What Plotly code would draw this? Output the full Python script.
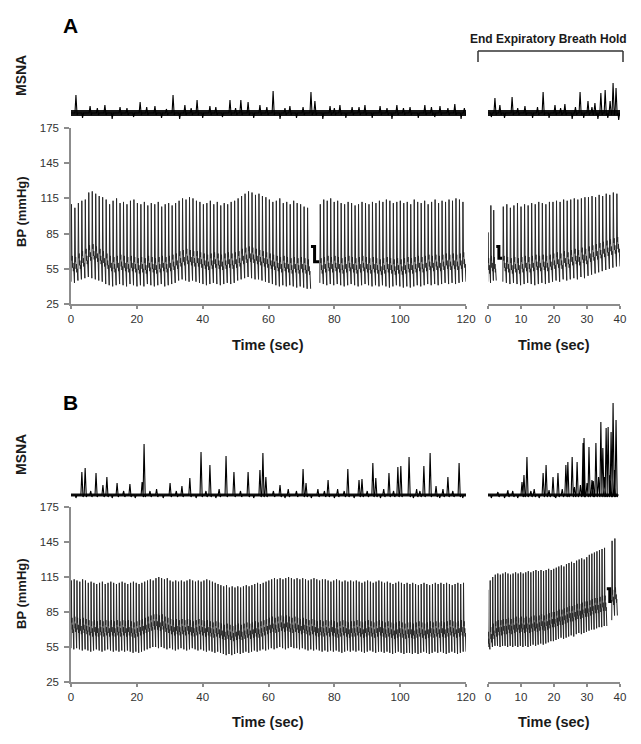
import plotly.graph_objects as go

# The page body has an 8 px margin, so the figure is made 16 px smaller than the window
# and pixel positions below are given in window coordinates.
OFF = 8
W, H = 641 - 2 * OFF, 744 - 2 * OFF

# ---------------- DATA ----------------
# Panel A, baseline recording, BP beats (mmHg)
a1_start, a1_end = 0.0, 72.8
a1_sys = [110, 107, 111, 113, 114, 120, 121, 119, 117, 116,
          114, 110, 113, 115, 111, 112, 110, 113, 114,
          111, 110, 112, 109, 111, 110, 112, 108, 110, 111, 109, 111,
          113, 115, 114, 116, 115, 113,
          112, 110, 111, 113, 110, 112, 109, 111, 110, 112, 113,
          115, 117, 119, 121, 120, 118, 119, 117, 116,
          114, 112, 113, 115, 111, 112, 110, 113, 111, 110, 108, 107]
a1_dia = [44, 43, 45, 46, 47, 48, 47, 46, 45, 44,
          42, 41, 40, 41, 42, 41, 40, 42, 41,
          40, 41, 40, 42, 41, 40, 41, 42, 40, 41, 42, 43,
          45, 46, 45, 44, 45, 44,
          43, 42, 41, 42, 43, 42, 41, 42, 43, 42, 43,
          45, 46, 47, 48, 47, 46, 46, 45, 44,
          43, 42, 41, 40, 41, 40, 41, 40, 39, 40, 39, 38]
a1_notch = [62, 61, 64, 66, 68, 71, 72, 70, 68, 66,
            64, 62, 61, 62, 63, 62, 61, 62, 61,
            60, 61, 60, 62, 61, 60, 61, 62, 61, 62, 63, 64,
            66, 67, 68, 67, 66, 66,
            65, 64, 63, 64, 65, 64, 63, 64, 65, 64, 65,
            66, 68, 69, 70, 69, 68, 67, 66, 65,
            64, 63, 62, 61, 62, 61, 60, 61, 60, 61, 60, 59]
a_cal1_t = [72.9, 74.0, 75.4]
a_cal1_v = [74, 61, 61]
a2_start, a2_end = 75.6, 120.0
a2_sys = [110, 114, 113, 115, 112,
          113, 111, 110, 112, 111, 109, 110, 112, 111,
          110, 112, 111, 113, 112, 114, 113, 111, 112,
          113, 111, 112, 110, 114, 112, 111, 113, 110,
          112, 114, 111, 113, 112, 114, 113, 115, 114, 112]
a2_dia = [43, 42, 41, 42, 41,
          42, 41, 40, 41, 42, 41, 40, 41, 42,
          41, 40, 41, 40, 41, 40, 39, 40, 41,
          40, 39, 40, 39, 40, 41, 40, 41, 42,
          41, 42, 41, 42, 43, 42, 43, 42, 43, 44]
a2_notch = [60, 61, 62, 61, 62,
            61, 60, 61, 62, 61, 60, 61, 62, 61,
            60, 61, 60, 59, 60, 61, 60, 59, 60,
            59, 60, 61, 60, 61, 62, 61, 62, 63,
            62, 63, 62, 63, 64, 63, 64, 63, 64, 65]

# Panel A, end expiratory breath hold
ah0_start, ah0_end = -0.1, 2.5
ah0_sys = [86, 109, 105]
ah0_dia = [44, 43, 45]
ah0_notch = [60, 62, 61]
ah_cal_t = [2.5, 3.3, 4.3]
ah_cal_v = [74, 64, 64]
ah1_start, ah1_end = 4.5, 40.0
ah1_sys = [108, 110, 107, 109, 111,
           108, 110, 109, 111, 110, 112, 111, 110, 112,
           112, 113, 112, 114, 113, 114, 115, 114, 115, 116,
           116, 117, 116, 118, 117, 119, 118, 120, 119]
ah1_dia = [44, 43, 42, 43, 42,
           41, 42, 43, 42, 41, 42, 43, 42, 43,
           44, 45, 44, 46, 45, 46, 47, 46, 48, 47,
           49, 50, 51, 52, 53, 54, 55, 56, 57]
ah1_notch = [62, 61, 60, 61, 60,
             61, 62, 61, 62, 63, 62, 63, 62, 63,
             64, 65, 64, 66, 65, 67, 68, 67, 69, 68,
             70, 71, 72, 73, 74, 75, 76, 77, 78]

# Panel B, baseline recording
b1_start, b1_end = 0.0, 120.0
b1_sys = [112, 113, 112, 111, 113, 112, 110, 111, 110, 109,
          110, 111, 109, 110, 111, 110, 109, 110, 111, 110,
          109, 110, 111, 110, 109, 110, 111, 112, 113, 112,
          114, 115, 114, 113, 114, 112, 111, 112, 111, 112,
          111, 112, 113, 112, 111, 112, 111, 112, 113, 112,
          111, 110, 109, 108, 107, 108, 106, 107, 106, 107,
          106, 107, 108, 107, 108, 109, 110, 109, 110, 111,
          112, 113, 114, 113, 114, 113, 114, 115, 114, 113,
          114, 113, 114, 113, 112, 113, 114, 113, 112, 113,
          113, 112, 111, 112, 113, 112, 111, 112, 111, 112,
          111, 112, 111, 110, 111, 112, 111, 110, 111, 112,
          111, 110, 111, 110, 109, 110, 111, 110, 109, 110,
          109, 110, 109, 108, 109, 110, 109, 108, 109, 110,
          109, 110, 109, 110, 109, 108, 109, 110, 109, 110]
b1_dia = [54, 53, 54, 53, 52, 53, 52, 51, 52, 53,
          52, 51, 52, 53, 52, 51, 52, 51, 52, 51,
          52, 51, 50, 51, 50, 51, 52, 53, 54, 55,
          55, 54, 55, 54, 53, 54, 53, 52, 53, 54,
          53, 52, 53, 54, 53, 52, 53, 52, 51, 52,
          51, 50, 51, 50, 49, 48, 49, 48, 49, 50,
          49, 50, 51, 50, 51, 52, 51, 52, 53, 52,
          53, 54, 53, 54, 55, 54, 53, 54, 55, 54,
          54, 53, 54, 53, 52, 53, 52, 53, 52, 51,
          52, 51, 52, 51, 52, 51, 50, 51, 52, 51,
          52, 51, 52, 51, 50, 51, 52, 51, 50, 51,
          51, 50, 51, 50, 49, 50, 51, 50, 49, 50,
          50, 49, 50, 49, 50, 51, 50, 49, 50, 51,
          50, 51, 50, 49, 50, 51, 50, 49, 50, 51]
b1_notch = [76, 77, 76, 75, 76, 75, 74, 73, 74, 73,
            74, 73, 74, 73, 74, 73, 74, 73, 74, 73,
            74, 73, 72, 73, 74, 75, 76, 77, 78, 79,
            79, 78, 79, 77, 76, 75, 74, 75, 74, 75,
            74, 75, 74, 73, 74, 75, 74, 73, 74, 73,
            72, 73, 72, 71, 70, 71, 70, 69, 70, 71,
            70, 71, 72, 71, 72, 73, 72, 73, 74, 75,
            76, 77, 76, 77, 78, 77, 78, 77, 76, 77,
            76, 75, 76, 75, 74, 75, 74, 73, 74, 73,
            74, 73, 74, 73, 72, 73, 74, 73, 72, 73,
            73, 74, 73, 72, 73, 74, 73, 72, 73, 74,
            73, 72, 73, 72, 71, 72, 73, 72, 71, 72,
            72, 71, 72, 73, 72, 71, 72, 73, 72, 73,
            72, 73, 72, 73, 74, 73, 72, 73, 74, 73]

# Panel B, end expiratory breath hold
bh1_start, bh1_end = -0.2, 36.0
bh1_sys = [104, 112, 115, 117, 118, 117, 118,
           119, 118, 117, 118, 119, 118, 119,
           118, 119, 120, 119, 120, 121, 120, 121, 120, 121, 122, 121,
           122, 123, 124, 125, 124, 126, 127,
           128, 127, 129, 130, 131, 130, 132,
           134, 135, 136, 137, 138, 139, 140]
bh1_dia = [51, 53, 55, 56, 56, 55, 56,
           56, 55, 56, 55, 56, 55, 56,
           55, 56, 55, 56, 57, 56, 57, 58, 57, 58, 59, 60,
           60, 61, 62, 63, 62, 63, 64,
           65, 64, 66, 67, 66, 67, 68,
           69, 70, 70, 71, 72, 72, 73]
bh1_notch = [64, 68, 71, 73, 74, 74, 75,
             75, 76, 75, 76, 77, 76, 77,
             76, 77, 76, 77, 78, 77, 78, 79, 78, 79, 80, 81,
             81, 82, 83, 83, 84, 85, 86,
             86, 87, 88, 88, 89, 90, 90,
             91, 92, 93, 93, 94, 95, 95]
bh_cal_t = [36.0, 36.9, 37.5]
bh_cal_v = [105, 94, 94]
bh2_start, bh2_end = 37.5, 39.2
bh2_sys = [146, 148]
bh2_dia = [78, 82]
bh2_notch = [100, 102]

# MSNA deflections (time in s, height in arbitrary units relative to baseline)
msna_a1_t = [1.5, 3.5, 5.8, 8.0, 10.3, 12.5, 14.9, 17.0, 19.0, 21.0, 23.0, 25.5, 27.5,
             29.0, 31.0, 33.0, 34.6, 36.5, 38.3, 40.0, 42.2, 44.0, 46.0, 48.3, 50.0,
             51.6, 53.8, 55.5, 57.4, 59.5, 61.4, 63.5, 65.0, 66.5, 68.5, 70.5, 72.9,
             74.1, 76.5, 78.7, 80.0, 81.7, 83.5, 85.4, 87.5, 89.3, 91.5, 93.9, 96.0,
             97.5, 99.0, 101.0, 103.0, 105.5, 107.5, 109.5, 110.5, 112.1, 114.5,
             116.6, 118.5, 119.5]
msna_a1_h = [18, -5, 7, 5, 8, -6, 6, 5, -4, 11, 6, 7, -5,
             4, 18, -6, 8, 5, 13, -5, 7, 6, -4, 13, 5,
             13, 11, -5, 8, 6, 22, -6, 5, 7, -5, 6, 21,
             12, -6, 7, 5, 8, -5, 6, 6, 8, -5, 7, 5,
             -6, 8, 5, 6, -5, 8, 6, -4, 7, 5,
             9, -6, 5]
msna_ah_t = [1.0, 2.1, 3.6, 5.0, 7.3, 9.0, 11.2, 13.5, 15.0, 16.7, 18.5, 20.3, 22.0,
             23.3, 25.5, 26.5, 27.9, 29.0, 30.3, 31.5, 32.4, 33.3, 34.2, 35.5, 36.3,
             37.0, 37.9, 38.8, 39.6]
msna_ah_h = [-4, 15, 8, -5, 16, 5, 7, -5, 6, 21, -5, 8, 5,
             9, -6, 6, 21, -5, 12, 6, 10, -6, 20, 23, -5,
             12, 30, 25, -7]
msna_b1_t = [1.5, 3.3, 4.3, 6.0, 7.6, 9.7, 10.9, 12.5, 14.0, 16.0, 17.9, 19.5, 21.6,
             22.2, 24.0, 26.0, 28.0, 30.1, 32.0, 33.7, 36.1, 38.0, 39.5, 41.0, 42.2,
             44.0, 45.0, 47.1, 49.5, 51.5, 53.8, 55.5, 57.4, 58.3, 59.2, 61.5, 63.5,
             65.0, 66.0, 68.5, 70.5, 71.4, 73.0, 75.0, 77.0, 78.1, 80.0, 81.0, 83.0,
             84.1, 86.0, 87.5, 88.4, 90.0, 91.7, 92.6, 94.0, 95.0, 96.6, 98.0, 99.3,
             100.2, 102.7, 104.0, 105.0, 106.0, 107.2, 109.1, 110.9, 112.0, 113.0,
             114.5, 116.0, 117.9, 119.0]
msna_b1_h = [-3, 23, 27, 4, 22, 10, 18, -3, 12, 4, 11, -3, 13,
             51, 4, 6, -3, 12, 4, 9, 17, -3, 43, 4, 30,
             -3, 6, 39, 23, 4, 23, -3, 25, 42, 18, 4, 10,
             -3, 6, 4, 26, 12, -3, 6, 4, 15, -3, 6, 4,
             26, -3, 15, 16, 4, 32, 17, -3, 6, 22, 4, 28,
             29, 38, -3, 6, 4, 29, 42, 9, -3, 6,
             18, 4, 32, -3]
msna_bh_t = [1.0, 3.0, 5.0, 6.0, 7.5, 9.0, 10.3, 10.9, 11.8, 13.0, 14.0, 15.5, 16.7,
             17.6, 18.5, 19.7, 20.5, 21.2, 22.5, 23.6, 24.2, 25.5, 26.2, 27.0, 28.0,
             28.8, 29.1, 30.0, 30.6, 31.5, 31.9, 32.7, 33.5, 34.2, 34.8, 35.3, 35.8,
             36.4, 37.0, 37.3, 37.9, 38.3, 38.8]
msna_bh_h = [-3, 3, -3, 5, 4, -3, 13, 20, 38, 4, 6, -3, 22,
             30, 5, 18, -3, 22, 6, 30, 33, 38, 8, 33, 10,
             52, 57, 12, 48, 15, 14, 52, 18, 73, 47, 18, 67,
             68, 20, 63, 92, 25, 75]

# ---------------- helpers ----------------
TRACE = "#262626"
# pulse-wave template: fraction of the beat period and offset from the notch level
SHAPE_FRAC = [0.12, 0.27, 0.34, 0.46, 0.56, 0.68, 0.78]
SHAPE_OFF = [None, 0, 4, -6, -2, -9, -6]


def beats(t0, t1, sys, dia, notch):
    n = len(sys)
    T = (t1 - t0) / n
    xs, ys = [], []
    for i in range(n):
        tb = t0 + i * T
        xs.append(tb)
        ys.append(dia[i])
        for f, o in zip(SHAPE_FRAC, SHAPE_OFF):
            xs.append(tb + f * T)
            ys.append(sys[i] if o is None else notch[i] + o)
    xs.append(t1)
    ys.append(dia[-1])
    return xs, ys


def msna(t0, t1, times, heights):
    xs, ys = [t0], [0]
    for t, h in sorted(zip(times, heights)):
        if h > 0:
            xs += [t - 0.3, t, t + 0.35, t + 0.6]
            ys += [0, h, -2, 0]
        else:
            xs += [t - 0.2, t, t + 0.3]
            ys += [0, h, 0]
    xs.append(t1)
    ys.append(0)
    return xs, ys


fig = go.Figure()


def add_line(x, y, ax, color=TRACE, width=1.0, shape="linear"):
    fig.add_trace(go.Scatter(x=x, y=y, mode="lines", xaxis="x" + ax, yaxis="y" + ax,
                             line=dict(color=color, width=width, simplify=False, shape=shape),
                             hoverinfo="skip", showlegend=False))


for seg, ax in [((a1_start, a1_end, a1_sys, a1_dia, a1_notch), ""),
                ((a2_start, a2_end, a2_sys, a2_dia, a2_notch), ""),
                ((ah0_start, ah0_end, ah0_sys, ah0_dia, ah0_notch), "2"),
                ((ah1_start, ah1_end, ah1_sys, ah1_dia, ah1_notch), "2"),
                ((b1_start, b1_end, b1_sys, b1_dia, b1_notch), "5"),
                ((bh1_start, bh1_end, bh1_sys, bh1_dia, bh1_notch), "6"),
                ((bh2_start, bh2_end, bh2_sys, bh2_dia, bh2_notch), "6")]:
    x, y = beats(*seg)
    add_line(x, y, ax)

add_line(a_cal1_t, a_cal1_v, "", color="black", width=3, shape="hv")
add_line(ah_cal_t, ah_cal_v, "2", color="black", width=3, shape="hv")
add_line(bh_cal_t, bh_cal_v, "6", color="black", width=3, shape="hv")

for (t0, t1, tt, hh, ax, band) in [(0, 120, msna_a1_t, msna_a1_h, "3", 6),
                                    (0, 40, msna_ah_t, msna_ah_h, "4", 6),
                                    (0, 120, msna_b1_t, msna_b1_h, "7", 3),
                                    (0, 39.3, msna_bh_t, msna_bh_h, "8", 3)]:
    add_line([t0, t1], [0, 0], ax, color="#161616", width=band)
    x, y = msna(t0, t1, tt, hh)
    add_line(x, y, ax, color="black", width=1.1)

# ---------------- layout ----------------
FONT = "Liberation Sans, Arial, Helvetica, sans-serif"
AXC = "#8c8c8c"


def fx(p):
    return (p - OFF) / W


def fy(p):
    return 1 - (p - OFF) / H


def dx(p0, p1):
    return [fx(p0), fx(p1)]


def dy(top, bottom):
    return [fy(bottom), fy(top)]


LEFT = dx(71, 466)
RIGHT = dx(488, 620)

xbase = dict(showline=True, linecolor=AXC, linewidth=1.5, ticks="outside", ticklen=3,
             tickcolor=AXC, tickwidth=1.5, showgrid=False, zeroline=False, automargin=False,
             tickfont=dict(family=FONT, size=11.5, color="#333333"), fixedrange=True)
ybp = dict(range=[25, 175], tickvals=[25, 55, 85, 115, 145, 175], showline=True,
           linecolor=AXC, linewidth=1.5, ticks="outside", ticklen=5, tickcolor=AXC,
           tickwidth=1.5, showgrid=False, zeroline=False, ticklabelstandoff=3, automargin=False,
           tickfont=dict(family=FONT, size=11.5, color="#333333"), fixedrange=True)
hidden = dict(visible=False, fixedrange=True, showgrid=False, zeroline=False, automargin=False)

layout = dict(
    width=W, height=H, autosize=False, showlegend=False,
    margin=dict(l=0, r=0, t=0, b=0, pad=0, autoexpand=False),
    paper_bgcolor="white", plot_bgcolor="white",
    xaxis=dict(xbase, domain=LEFT, range=[0, 120], tickvals=[0, 20, 40, 60, 80, 100, 120], anchor="y"),
    yaxis=dict(ybp, domain=dy(128, 304), anchor="x"),
    xaxis2=dict(xbase, domain=RIGHT, range=[0, 40], tickvals=[0, 10, 20, 30, 40], anchor="y2"),
    yaxis2=dict(hidden, domain=dy(128, 304), range=[25, 175], anchor="x2"),
    xaxis3=dict(hidden, domain=LEFT, range=[0, 120], anchor="y3"),
    yaxis3=dict(hidden, domain=dy(75, 125), range=[-12, 38], anchor="x3"),
    xaxis4=dict(hidden, domain=RIGHT, range=[0, 40], anchor="y4"),
    yaxis4=dict(hidden, domain=dy(75, 125), range=[-12, 38], anchor="x4"),
    xaxis5=dict(xbase, domain=LEFT, range=[0, 120], tickvals=[0, 20, 40, 60, 80, 100, 120], anchor="y5"),
    yaxis5=dict(ybp, domain=dy(507, 682), anchor="x5"),
    xaxis6=dict(xbase, domain=RIGHT, range=[0, 40], tickvals=[0, 10, 20, 30, 40], anchor="y6"),
    yaxis6=dict(hidden, domain=dy(507, 682), range=[25, 175], anchor="x6"),
    xaxis7=dict(hidden, domain=LEFT, range=[0, 120], anchor="y7"),
    yaxis7=dict(hidden, domain=dy(395, 505), range=[-10, 100], anchor="x7"),
    xaxis8=dict(hidden, domain=RIGHT, range=[0, 40], anchor="y8"),
    yaxis8=dict(hidden, domain=dy(395, 505), range=[-10, 100], anchor="x8"),
)
fig.update_layout(**layout)


def note(text, px, py, size, angle=0, color="#1a1a1a"):
    fig.add_annotation(text=text, x=fx(px), y=fy(py), xref="paper", yref="paper",
                       xanchor="center", yanchor="middle", showarrow=False, textangle=angle,
                       font=dict(family=FONT, size=size, color=color))


note("<b>A</b>", 70, 25, 21, color="black")
note("<b>B</b>", 70, 402, 21, color="black")
note("<b>MSNA</b>", 21, 76, 14, angle=-90)
note("<b>MSNA</b>", 21, 455, 14, angle=-90)
note("<b>BP (mmHg)</b>", 21, 212, 13, angle=-90)
note("<b>BP (mmHg)</b>", 21, 594, 13, angle=-90)
note("<b>Time (sec)</b>", 268, 345, 14.5)
note("<b>Time (sec)</b>", 554, 345, 14.5)
note("<b>Time (sec)</b>", 268, 722, 14.5)
note("<b>Time (sec)</b>", 554, 722, 14.5)
note("<b>End Expiratory Breath Hold</b>", 548, 39, 12)

for (x0, y0, x1, y1) in [(478, 51, 623, 51), (478, 51, 478, 62), (623, 51, 623, 62)]:
    fig.add_shape(type="line", xref="paper", yref="paper",
                  x0=fx(x0), y0=fy(y0), x1=fx(x1), y1=fy(y1),
                  line=dict(color="#333333", width=1.5))

fig.write_html("out.html")
